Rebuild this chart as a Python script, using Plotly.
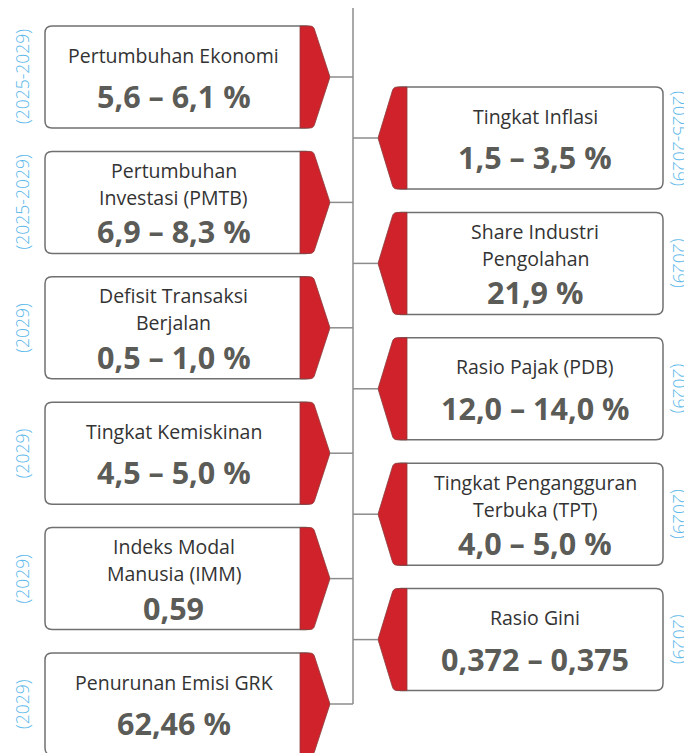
import plotly.graph_objects as go

# ---- data ----
left_titles = ["Pertumbuhan Ekonomi", "Pertumbuhan<br>Investasi (PMTB)", "Defisit Transaksi<br>Berjalan",
               "Tingkat Kemiskinan", "Indeks Modal<br>Manusia (IMM)", "Penurunan Emisi GRK"]
left_values = ["5,6 – 6,1 %", "6,9 – 8,3 %", "0,5 – 1,0 %", "4,5 – 5,0 %", "0,59", "62,46 %"]
left_years = ["(2025-2029)", "(2025-2029)", "(2029)", "(2029)", "(2029)", "(2029)"]

right_titles = ["Tingkat Inflasi", "Share Industri<br>Pengolahan", "Rasio Pajak (PDB)",
                "Tingkat Pengangguran<br>Terbuka (TPT)", "Rasio Gini"]
right_values = ["1,5 – 3,5 %", "21,9 %", "12,0 – 14,0 %", "4,0 – 5,0 %", "0,372 – 0,375"]
right_years = ["(2025-2029)", "(2029)", "(2029)", "(2029)", "(2029)"]

# ---- style / layout constants ----
W, H = 692, 753
OFF = 8  # page body margin compensation
RED = "#d0222b"
BORDER = "#707070"
LINE = "#8c8c8c"
TITLE_C = "#333333"
VALUE_C = "#5b5b57"
YEAR_C = "#5cb8ea"
FONT = "Open Sans"

BOX_H = 102
STEP = 125.4
L_TOP0, R_TOP0 = 26, 87
L_X0, L_RED, L_REDR, L_TIP = 45, 300, 315, 330
R_TIP, R_RED, R_REDR, R_X1 = 378, 392, 407, 663
SPINE_X = 353
RAD = 7

fig = go.Figure()
shapes = []
ann = []


def rrect(x0, y0, x1, y1, r):
    return (f"M{x0+r},{y0} L{x1-r},{y0} Q{x1},{y0} {x1},{y0+r} L{x1},{y1-r} Q{x1},{y1} {x1-r},{y1} "
            f"L{x0+r},{y1} Q{x0},{y1} {x0},{y1-r} L{x0},{y0+r} Q{x0},{y0} {x0+r},{y0} Z")


def add_text(xc, top, title, value):
    lines = title.split("<br>")
    if len(lines) == 1:
        ys = [top + 29]
        vy = top + 70
    else:
        ys = [top + 19, top + 46]
        vy = top + 80
    for ln, yy in zip(lines, ys):
        ann.append(dict(x=xc, y=yy, text=ln, showarrow=False, xanchor="center", yanchor="middle",
                        font=dict(family=FONT, size=19.5, color=TITLE_C)))
    ann.append(dict(x=xc, y=vy, text=value, showarrow=False, xanchor="center", yanchor="middle",
                    font=dict(family=FONT, size=30.5, color=VALUE_C, weight="bold")))


tips_y = []
# left boxes
for i, (t, v, yr) in enumerate(zip(left_titles, left_values, left_years)):
    top = L_TOP0 + STEP * i
    bot = top + BOX_H
    mid = (top + bot) / 2
    tips_y.append(mid)
    shapes.append(dict(type="path", xref="x", yref="y", path=rrect(L_X0, top, L_REDR - 2, bot, RAD),
                       fillcolor="white", line=dict(color=BORDER, width=1.5)))
    p = (f"M{L_RED},{top} L{L_REDR-5},{top} Q{L_REDR-1},{top} {L_REDR},{top+5} L{L_TIP},{mid} "
         f"L{L_REDR},{bot-5} Q{L_REDR-1},{bot} {L_REDR-5},{bot} L{L_RED},{bot} Z")
    shapes.append(dict(type="path", xref="x", yref="y", path=p, fillcolor=RED,
                       line=dict(color="#8a3a3a", width=0.8)))
    shapes.append(dict(type="line", xref="x", yref="y", x0=L_TIP, x1=SPINE_X, y0=mid, y1=mid,
                       line=dict(color=LINE, width=1.5)))
    add_text((L_X0 + L_RED) / 2 + 1, top, t, v)
    ann.append(dict(x=22, y=mid, text=yr, textangle=-90, showarrow=False, xanchor="center",
                    yanchor="middle", font=dict(family=FONT, size=17.5, color=YEAR_C, weight=300)))

# right boxes
for i, (t, v, yr) in enumerate(zip(right_titles, right_values, right_years)):
    top = R_TOP0 + STEP * i
    bot = top + BOX_H
    mid = (top + bot) / 2
    shapes.append(dict(type="path", xref="x", yref="y", path=rrect(R_RED + 2, top, R_X1, bot, RAD),
                       fillcolor="white", line=dict(color=BORDER, width=1.5)))
    p = (f"M{R_REDR},{top} L{R_RED+5},{top} Q{R_RED+1},{top} {R_RED},{top+5} L{R_TIP},{mid} "
         f"L{R_RED},{bot-5} Q{R_RED+1},{bot} {R_RED+5},{bot} L{R_REDR},{bot} Z")
    shapes.append(dict(type="path", xref="x", yref="y", path=p, fillcolor=RED,
                       line=dict(color="#8a3a3a", width=0.8)))
    shapes.append(dict(type="line", xref="x", yref="y", x0=SPINE_X, x1=R_TIP, y0=mid, y1=mid,
                       line=dict(color=LINE, width=1.5)))
    add_text((R_REDR + R_X1) / 2, top, t, v)
    ann.append(dict(x=680, y=mid, text=yr, textangle=90, showarrow=False, xanchor="center",
                    yanchor="middle", font=dict(family=FONT, size=17.5, color=YEAR_C, weight=300)))

shapes.append(dict(type="line", xref="x", yref="y", x0=SPINE_X, x1=SPINE_X, y0=5, y1=max(tips_y),
                   line=dict(color=LINE, width=1.5), layer="below"))

fig.update_layout(
    width=W, height=H, margin=dict(l=0, r=0, t=0, b=0),
    paper_bgcolor="white", plot_bgcolor="white",
    xaxis=dict(range=[OFF, W + OFF], visible=False, fixedrange=True),
    yaxis=dict(range=[H + OFF, OFF], visible=False, fixedrange=True),
    shapes=shapes, annotations=ann, showlegend=False,
)

fig.write_html("out.html")
